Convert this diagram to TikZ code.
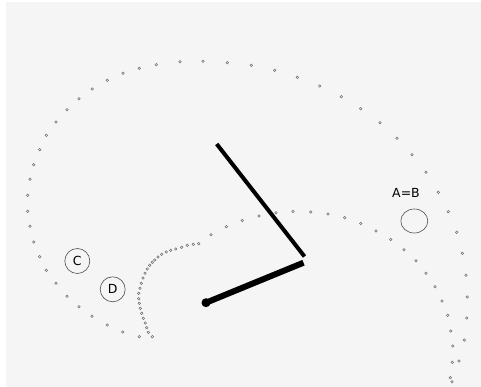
\documentclass[tikz,border=0pt]{standalone}
\usepackage{fontspec}
\setmainfont{DejaVu Sans}
\usepackage{tikz}
\usetikzlibrary{positioning, shapes.geometric}

\begin{document}
\begin{tikzpicture}[
    x=1pt, y=-1pt,
    trail/.style={draw=black!55, fill=gray!10, line width=0.55pt},
    mass/.style={circle, draw=black!70, line width=0.6pt, minimum size=25pt, inner sep=0pt, font=\fontsize{12.5}{14}\selectfont},
    arm/.style={line width=4pt, line cap=butt}
]
\useasboundingbox (0,0) rectangle (481,387);
\fill[white] (0,0) rectangle (481,387);
\fill[black!4] (6,2) rectangle (481,387);

% outer trail
\foreach \p in {(139.3,336.7),(122.7,332),(107.3,325),(92,316.3),(79,306.7),(67,296.3),(56,283.3),(46.3,270.3),(39.7,256.7),(33.7,242),(30,226.3),(27.7,211.3),(27.7,195.3),(30,179.3),(33.7,164.7),(39.7,149.7),(46.3,135.3),(56,122),(67,109.7),(79,98.7),(92.3,89),(107.3,80.3),(123,73.3),(139.3,68.3),(156.3,64.7),(180,61.7),(203,61.3),(227.3,62.7),(251.3,65.3),(274.7,70.3),(297.3,77.3),(319.7,86),(341.3,96.7),(360.7,108.7),(380,122.7),(397,138.3),(412,154.7),(426,172.3),(438.3,192.3),(448.3,211.7),(456.7,232.3),(462.3,253.3),(466,275.3),(467.3,297),(466.7,318),(464.3,340),(459,361),(452,381.7)}
    \draw[trail] \p circle (1.3);

% inner trail
\foreach \p in {(450.3,377.7),(452.3,362.3),(452.7,346),(450.7,331),(447.7,315.3),(442,301),(435,286.7),(426,273.3),(416,260.7),(404,249.7),(390.7,239.5),(376,231),(360.7,223.5),(344.7,217.7),(328,214),(310.7,212),(293,211.5),(276,212.7),(259,216),(242.3,220.5),(226.3,226.7),(211,234.7),(198.7,243.7),(193.3,244.3),(187.3,245.3),(181.7,247.3),(175.7,249),(170.7,250.3),(166.3,252),(161.7,254.3),(158,257),(154.7,260),(152.3,262.3),(149.7,265.3),(147.3,269),(145,273.3),(143,278),(141.3,283.3),(140,288.3),(138.7,293.3),(138.7,298.7),(139.3,303.3),(140.3,308.3),(141.7,313.3),(143.3,318.3),(145.3,323),(146.7,327.7),(148.3,332.3),(152.3,336.7)}
    \draw[trail] \p circle (1.3);

% labelled circles
\node[mass] (c) at (77.3,261) {C};
\node[mass] (d) at (112.7,289.3) {D};
\node[mass, ellipse, minimum width=27pt, minimum height=24pt] (ab) at (414.3,221) {};
\node[font=\fontsize{12.5}{14}\selectfont, inner sep=0pt] (abtext) at (406,193.3) {A=B};

% pendulum
\coordinate (top) at (216.7,144);
\coordinate (elbow) at (304.5,256.5);
\coordinate (knee) at (303.5,262.7);
\coordinate (bob) at (206,302.7);
\draw[arm] (top) -- (elbow);
\draw[arm, line width=6pt] (knee) -- (bob);
\fill (bob) circle (4.5);
\end{tikzpicture}
\end{document}
